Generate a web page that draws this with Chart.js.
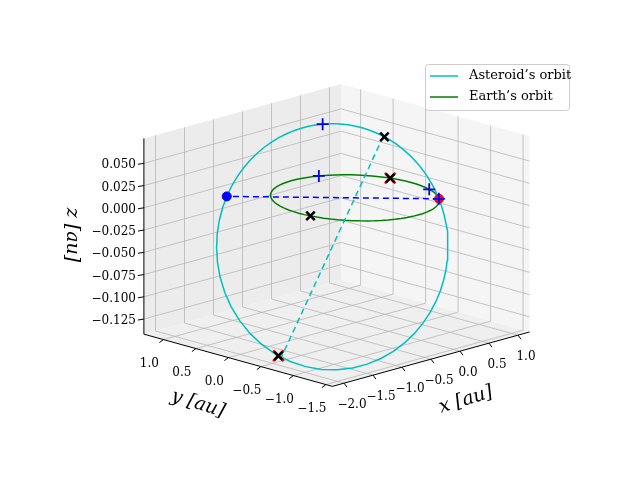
<!DOCTYPE html>
<html>
<head>
<meta charset="utf-8">
<script src="https://cdn.jsdelivr.net/npm/chart.js@4/dist/chart.umd.min.js"></script>
<style>
  body { margin: 0; background: #fff; }
  #wrap { width: 640px; height: 480px; }
</style>
</head>
<body>
<div id="wrap"><canvas id="chart" width="640" height="480"></canvas></div>
<script>
// Orbit data (au, degrees)
const earthRadius = [1.0]
const asteroidElements = [1.5, 0.443, 4.1, -44, 62] // a, e, inclination, node longitude, arg. of perihelion
const sampleAngles = Array.from({ length: 73 }, (_, k) => k * 5)

// Marker positions: Earth longitude (deg), asteroid angle from ascending node (deg)
const earthPlus = [67, -20]
const asteroidPlus = [110, 0]
const earthCross = [190]
const asteroidCross = [61]
const earthRedCross = [17]
const asteroidRedCross = [241]
const earthDot = [-44]
const asteroidDot = [180]

// Axis ticks
const xTicks = [-2.0, -1.5, -1.0, -0.5, 0.0, 0.5, 1.0]
const yTicks = [-1.5, -1.0, -0.5, 0.0, 0.5, 1.0]
const zTicks = [-0.125, -0.1, -0.075, -0.05, -0.025, 0.0, 0.025, 0.05]
const xRange = [-2.2, 1.2]
const yRange = [-1.6, 1.3]
const zRange = [-0.142, 0.078]

// projection of the 3D view onto the canvas
const O = [356, 196]
const EX = [58, -16]
const EY = [-65, -18]
const EZ = [0, -890]
function proj(x, y, z) {
  return { x: O[0] + x * EX[0] + y * EY[0] + z * EZ[0], y: O[1] + x * EX[1] + y * EY[1] + z * EZ[1] }
}
const rad = (d) => (d * Math.PI) / 180

function earthPoint(lon) {
  const r = earthRadius[0]
  return proj(r * Math.cos(rad(lon)), r * Math.sin(rad(lon)), 0)
}
function asteroidPoint(th) {
  const [a, e, inc, node, w] = asteroidElements
  const p = a * (1 - e * e)
  const r = p / (1 + e * Math.cos(rad(th - w)))
  const u = [Math.cos(rad(node)), Math.sin(rad(node))]
  const q = [-Math.sin(rad(node)), Math.cos(rad(node))]
  const c = Math.cos(rad(th)), s = Math.sin(rad(th))
  const ci = Math.cos(rad(inc)), si = Math.sin(rad(inc))
  return proj(r * (c * u[0] + s * ci * q[0]), r * (c * u[1] + s * ci * q[1]), r * s * si)
}

const w = asteroidElements[4]
const datasets = [
  { label: "Asteroid's orbit", order: 10, data: sampleAngles.map(asteroidPoint), showLine: true, borderColor: '#00bfbf', borderWidth: 1.5, pointRadius: 0 },
  { label: "Earth's orbit", order: 10, data: sampleAngles.map(earthPoint), showLine: true, borderColor: '#008000', borderWidth: 1.5, pointRadius: 0 },
  { label: 'nodes', order: 9, data: [asteroidPoint(0), asteroidPoint(180)], showLine: true, borderColor: '#0000ff', borderWidth: 1.5, borderDash: [6, 4], pointRadius: 0 },
  { label: 'apsides', order: 9, data: [asteroidPoint(w), asteroidPoint(w + 180)], showLine: true, borderColor: '#00bfbf', borderWidth: 1.5, borderDash: [6, 4], pointRadius: 0 },
  { label: 'red', order: 5, data: [...earthDot.map(earthPoint)], pointRadius: 4.5, backgroundColor: '#ff0000', borderColor: '#ff0000' },
  { label: 'blue', order: 5, data: [...asteroidDot.map(asteroidPoint)], pointRadius: 4.5, backgroundColor: '#0000ff', borderColor: '#0000ff' },
  { label: 'redx', order: 4, data: [...earthRedCross.map(earthPoint), ...asteroidRedCross.map(asteroidPoint)], pointStyle: 'crossRot', pointRadius: 7.5, borderColor: '#ff0000', borderWidth: 2.5 },
  { label: 'blackx', order: 3, data: [...earthCross.map(earthPoint), ...asteroidCross.map(asteroidPoint), ...earthRedCross.map(earthPoint), ...asteroidRedCross.map(asteroidPoint)], pointStyle: 'crossRot', pointRadius: 6, borderColor: '#000000', borderWidth: 2.5 },
  { label: 'plus', order: 2, data: [...earthPlus.map(earthPoint), ...asteroidPlus.map(asteroidPoint)], pointStyle: 'cross', pointRadius: 6, borderColor: '#0000ff', borderWidth: 1.8 },
]

const serif = "'DejaVu Serif', 'Liberation Serif', serif"

const boxPlugin = {
  id: 'box3d',
  beforeDatasetsDraw(chart) {
    const ctx = chart.ctx
    const [x0, x1] = xRange, [y0, y1] = yRange, [z0, z1] = zRange
    const poly = (pts, fill) => {
      ctx.beginPath()
      pts.forEach((p, i) => (i ? ctx.lineTo(p.x, p.y) : ctx.moveTo(p.x, p.y)))
      ctx.closePath()
      ctx.fillStyle = fill
      ctx.fill()
    }
    const line = (a, b, color, width) => {
      ctx.beginPath()
      ctx.moveTo(a.x, a.y)
      ctx.lineTo(b.x, b.y)
      ctx.strokeStyle = color
      ctx.lineWidth = width
      ctx.stroke()
    }
    ctx.save()
    // panes
    poly([proj(x0, y1, z0), proj(x1, y1, z0), proj(x1, y1, z1), proj(x0, y1, z1)], '#ececec')
    poly([proj(x1, y0, z0), proj(x1, y1, z0), proj(x1, y1, z1), proj(x1, y0, z1)], '#f5f5f5')
    poly([proj(x0, y0, z0), proj(x1, y0, z0), proj(x1, y1, z0), proj(x0, y1, z0)], '#efefef')
    const g = '#b8b8b8'
    xTicks.forEach((x) => {
      line(proj(x, y0, z0), proj(x, y1, z0), g, 0.8)
      line(proj(x, y1, z0), proj(x, y1, z1), g, 0.8)
    })
    yTicks.forEach((y) => {
      line(proj(x0, y, z0), proj(x1, y, z0), g, 0.8)
      line(proj(x1, y, z0), proj(x1, y, z1), g, 0.8)
    })
    zTicks.forEach((z) => {
      line(proj(x0, y1, z), proj(x1, y1, z), g, 0.8)
      line(proj(x1, y1, z), proj(x1, y0, z), g, 0.8)
    })
    // axis lines
    line(proj(x0, y0, z0), proj(x1, y0, z0), '#000', 1)
    line(proj(x0, y0, z0), proj(x0, y1, z0), '#000', 1)
    line(proj(x0, y1, z0), proj(x0, y1, z1), '#000', 1)
    ctx.font = '12px ' + serif
    ctx.fillStyle = '#000'
    ctx.textAlign = 'center'
    ctx.textBaseline = 'middle'
    xTicks.forEach((x) => {
      const p = proj(x, y0, z0)
      line(p, { x: p.x + 3, y: p.y + 4 }, '#000', 1)
      ctx.fillText(x.toFixed(1).replace('-', '\u2212'), p.x + 8, p.y + 22)
    })
    yTicks.forEach((y) => {
      const p = proj(x0, y, z0)
      line(p, { x: p.x - 4, y: p.y + 3 }, '#000', 1)
      ctx.fillText(y.toFixed(1).replace('-', '\u2212'), p.x - 14, p.y + 24)
    })
    ctx.textAlign = 'right'
    zTicks.forEach((z) => {
      const p = proj(x0, y1, z)
      line(p, { x: p.x - 6, y: p.y + 1 }, '#000', 1)
      ctx.fillText(z.toFixed(3).replace('-', '\u2212'), p.x - 8, p.y + 2)
    })
    // axis labels
    ctx.font = 'italic 19px ' + serif
    ctx.textAlign = 'center'
    const lab = (txt, x, y, ang) => {
      ctx.save()
      ctx.translate(x, y)
      ctx.rotate(ang)
      ctx.fillText(txt, 0, 0)
      ctx.restore()
    }
    lab('x [au]', 466, 400, -0.3)
    lab('y [au]', 198, 404, 0.3)
    lab('z [au]', 72, 235, Math.PI / 2)
    ctx.restore()
  },
  afterDraw(chart) {
    const ctx = chart.ctx
    ctx.save()
    ctx.fillStyle = 'rgba(255,255,255,0.85)'
    ctx.strokeStyle = '#cccccc'
    ctx.lineWidth = 1
    ctx.beginPath()
    ctx.roundRect(425.5, 64.5, 144, 46, 3)
    ctx.fill()
    ctx.stroke()
    ctx.font = '13px ' + serif
    ctx.fillStyle = '#000'
    ctx.textBaseline = 'middle'
    ;[['#00bfbf', "Asteroid\u2019s orbit", 76], ['#008000', "Earth\u2019s orbit", 97]].forEach(([c, t, y]) => {
      ctx.beginPath()
      ctx.moveTo(430, y)
      ctx.lineTo(458, y)
      ctx.strokeStyle = c
      ctx.lineWidth = 1.5
      ctx.stroke()
      ctx.fillText(t, 469, y)
    })
    ctx.restore()
  },
}

new Chart(document.getElementById('chart'), {
  type: 'scatter',
  data: { datasets },
  options: {
    responsive: false,
    animation: false,
    layout: { padding: 0 },
    plugins: { legend: { display: false }, tooltip: { enabled: false } },
    scales: {
      x: { type: 'linear', min: 0, max: 640, display: false },
      y: { type: 'linear', min: 0, max: 480, reverse: true, display: false },
    },
  },
  plugins: [boxPlugin],
})
</script>
</body>
</html>
